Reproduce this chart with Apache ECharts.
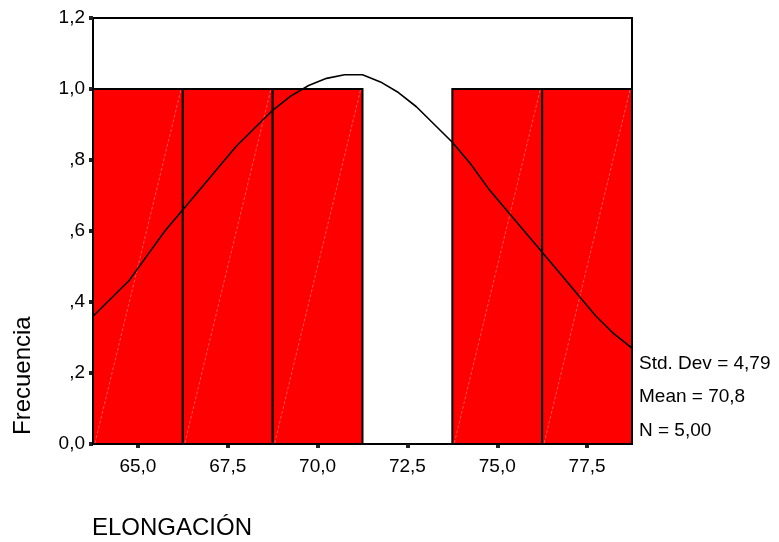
<!DOCTYPE html>
<html>
<head>
<meta charset="utf-8">
<script src="https://cdn.jsdelivr.net/npm/echarts@6/dist/echarts.min.js"></script>
<style>
  html, body { margin: 0; padding: 0; background: #fff; }
  #chart { width: 779px; height: 542px; }
</style>
</head>
<body>
<div id="chart"></div>
<script>
// bins of the histogram (width 2,5)
const binStart = [63.75, 66.25, 68.75, 71.25, 73.75, 76.25];
const binEnd = [66.25, 68.75, 71.25, 73.75, 76.25, 78.75];
const counts = [1, 1, 1, 0, 1, 1];

// x tick labels
const xTicks = [65, 67.5, 70, 72.5, 75, 77.5];

// normal curve
const curveX = [63.75, 64.25, 64.75, 65.25, 65.75, 66.25, 66.75, 67.25, 67.75, 68.25,
  68.75, 69.25, 69.75, 70.25, 70.75, 71.25, 71.75, 72.25, 72.75, 73.25,
  73.75, 74.25, 74.75, 75.25, 75.75, 76.25, 76.75, 77.25, 77.75, 78.25, 78.75];
const curveY = [0.36, 0.41, 0.46, 0.53, 0.60, 0.66, 0.72, 0.78, 0.84, 0.89,
  0.94, 0.98, 1.01, 1.03, 1.04, 1.04, 1.02, 0.99, 0.95, 0.90,
  0.85, 0.79, 0.72, 0.66, 0.60, 0.54, 0.48, 0.42, 0.36, 0.31, 0.27];

const stats = ["Std. Dev = 4,79", "Mean = 70,8", "N = 5,00"];

const FONT = "Liberation Sans, Arial, sans-serif";

const chart = echarts.init(document.getElementById("chart"));

const bars = binStart.map((s, i) => [s, binEnd[i], counts[i]]);
const curve = curveX.map((x, i) => [x, curveY[i]]);

function yLabel(v) {
  if (v === 0) return "0,0";
  if (v < 1) return "," + Math.round(v * 10);
  return v.toFixed(1).replace(".", ",");
}

const option = {
  animation: false,
  grid: {
    left: 93, top: 18, right: 147, bottom: 98,
    show: true, borderColor: "#000", borderWidth: 2, backgroundColor: "#fff"
  },
  xAxis: {
    type: "value",
    min: 63.75,
    max: 78.75,
    axisLine: { show: true, lineStyle: { color: "#000", width: 2 } },
    axisTick: {
      show: true, customValues: xTicks, length: 4,
      lineStyle: { color: "#222", width: 4 }
    },
    axisLabel: {
      customValues: xTicks, margin: 13,
      color: "#000", fontFamily: FONT, fontSize: 19,
      formatter: (v) => v.toFixed(1).replace(".", ",")
    },
    splitLine: { show: false }
  },
  yAxis: {
    type: "value",
    min: 0, max: 1.2, interval: 0.2,
    axisLine: { show: true, lineStyle: { color: "#000", width: 2 } },
    axisTick: { show: true, length: 4, lineStyle: { color: "#222", width: 4 } },
    axisLabel: {
      margin: 8, color: "#000", fontFamily: FONT, fontSize: 19,
      formatter: yLabel
    },
    splitLine: { show: false }
  },
  series: [
    {
      type: "custom",
      data: bars,
      encode: { x: [0, 1], y: 2 },
      renderItem: function (params, api) {
        const s = api.value(0), e = api.value(1), c = api.value(2);
        if (!c) return null;
        const p0 = api.coord([s, c]);
        const p1 = api.coord([e, 0]);
        const w = p1[0] - p0[0], h = p1[1] - p0[1];
        return {
          type: "group",
          children: [
            {
              type: "rect",
              shape: { x: p0[0], y: p0[1], width: w, height: h },
              style: { fill: "#ff0000", stroke: "#000", lineWidth: 2 }
            },
            {
              type: "line",
              shape: { x1: p0[0] + 2, y1: p1[1] - 1, x2: p1[0] - 2, y2: p0[1] + 1 },
              style: { stroke: "rgba(255,190,190,0.55)", lineWidth: 0.8, lineDash: [3, 2] }
            }
          ]
        };
      },
      z: 2
    },
    {
      type: "line",
      data: curve,
      showSymbol: false,
      smooth: false,
      lineStyle: { color: "#000", width: 1.6 },
      z: 3
    }
  ],
  graphic: [
    {
      type: "text", x: 23, y: 435, rotation: Math.PI / 2,
      style: {
        text: "Frecuencia", fill: "#000", font: "24px " + FONT,
        textAlign: "left", textVerticalAlign: "middle"
      }
    },
    {
      type: "text", x: 92, y: 528,
      style: {
        text: "ELONGACIÓN", fill: "#000", font: "24px " + FONT,
        textAlign: "left", textVerticalAlign: "middle"
      }
    }
  ].concat(stats.map((t, i) => ({
    type: "text", x: 639, y: [364, 397, 431][i],
    style: {
      text: t, fill: "#000", font: "19px " + FONT,
      textAlign: "left", textVerticalAlign: "middle"
    }
  })))
};

chart.setOption(option);
</script>
</body>
</html>
